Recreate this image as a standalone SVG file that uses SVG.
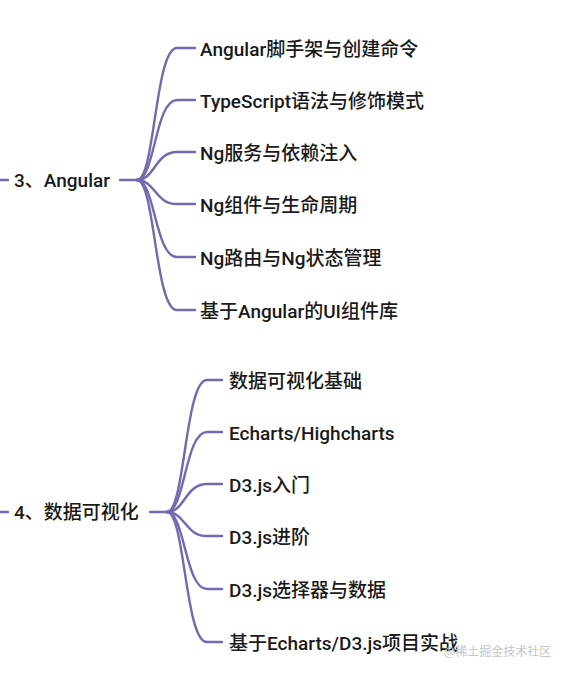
<svg xmlns="http://www.w3.org/2000/svg" width="568" height="674" viewBox="0 0 568 674">
<style>
.t{font-family:Roboto,"Noto Sans CJK SC",sans-serif;font-size:19px;font-weight:500;fill:#1a1a1a;dominant-baseline:central}
.c{fill:none;stroke:#7468b0;stroke-width:2.4;stroke-linecap:round}
.w{font-family:"Noto Sans CJK SC",sans-serif;font-size:12px;fill:#c4c4c4;dominant-baseline:central}
</style>
<rect width="568" height="674" fill="#fff"/>
<g id="connectors">
<path class="c" d="M0,180 H8"/>
<path class="c" d="M120,180 H137"/>
<path class="c" d="M137,180 C155,180 155,48 177,48 H195"/>
<path class="c" d="M137,180 C155,180 155,100 177,100 H195"/>
<path class="c" d="M137,180 C155,180 155,152 177,152 H195"/>
<path class="c" d="M137,180 C155,180 155,204 177,204 H195"/>
<path class="c" d="M137,180 C155,180 155,257 177,257 H195"/>
<path class="c" d="M137,180 C155,180 155,310 177,310 H195"/>
<path class="c" d="M0,512 H8"/>
<path class="c" d="M150,512 H167"/>
<path class="c" d="M167,512 C185,512 185,380 207,380 H222"/>
<path class="c" d="M167,512 C185,512 185,432 207,432 H222"/>
<path class="c" d="M167,512 C185,512 185,484 207,484 H222"/>
<path class="c" d="M167,512 C185,512 185,536 207,536 H222"/>
<path class="c" d="M167,512 C185,512 185,589 207,589 H222"/>
<path class="c" d="M167,512 C185,512 185,642 207,642 H222"/>
</g>
<g id="n3"><text class="t" x="14" y="180">3、Angular</text></g>
<g id="n3a"><text class="t" x="200" y="49">Angular脚手架与创建命令</text></g>
<g id="n3b"><text class="t" x="200" y="101">TypeScript语法与修饰模式</text></g>
<g id="n3c"><text class="t" x="200" y="153">Ng服务与依赖注入</text></g>
<g id="n3d"><text class="t" x="200" y="205">Ng组件与生命周期</text></g>
<g id="n3e"><text class="t" x="200" y="258">Ng路由与Ng状态管理</text></g>
<g id="n3f"><text class="t" x="200" y="311">基于Angular的UI组件库</text></g>
<g id="n4"><text class="t" x="14" y="512">4、数据可视化</text></g>
<g id="n4a"><text class="t" x="229" y="381">数据可视化基础</text></g>
<g id="n4b"><text class="t" x="229" y="433">Echarts/Highcharts</text></g>
<g id="n4c"><text class="t" x="229" y="485">D3.js入门</text></g>
<g id="n4d"><text class="t" x="229" y="537">D3.js进阶</text></g>
<g id="n4e"><text class="t" x="229" y="590">D3.js选择器与数据</text></g>
<g id="n4f"><text class="t" x="229" y="643">基于Echarts/D3.js项目实战</text></g>
<text class="w" x="444" y="650">@稀土掘金技术社区</text>
</svg>
